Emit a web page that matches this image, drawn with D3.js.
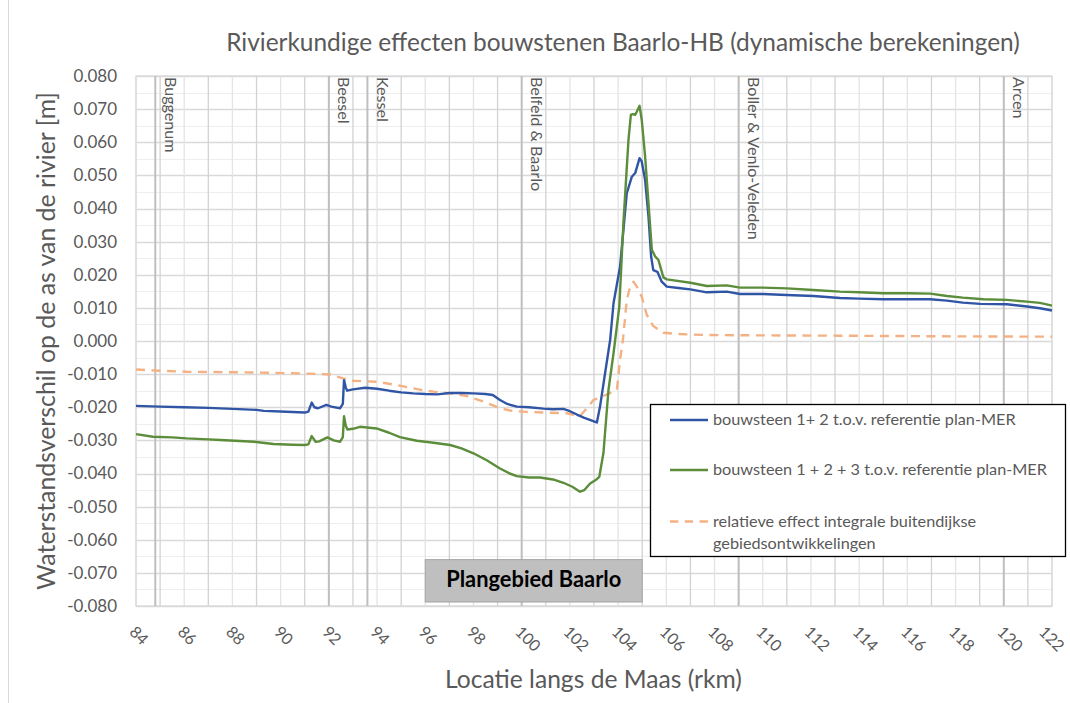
<!DOCTYPE html>
<html>
<head>
<meta charset="utf-8">
<script src="https://cdn.jsdelivr.net/npm/d3@7"></script>
<style>
  html, body { margin: 0; padding: 0; background: #fff; }
  svg { display: block; font-family: Lato, "Open Sans", sans-serif; }
</style>
</head>
<body>
<svg id="chart" width="1070" height="703"></svg>
<script>
// ---- data -------------------------------------------------------------
const xTickValues = [84, 86, 88, 90, 92, 94, 96, 98, 100, 102, 104, 106, 108, 110, 112, 114, 116, 118, 120, 122];
const yTickValues = [-0.08, -0.07, -0.06, -0.05, -0.04, -0.03, -0.02, -0.01, 0, 0.01, 0.02, 0.03, 0.04, 0.05, 0.06, 0.07, 0.08];

// river places along the Maas (rkm)
const placeNames = ["Buggenum", "Beesel", "Kessel", "Belfeld & Baarlo", "Boller & Venlo-Veleden", "Arcen"];
const placeKm = [84.8, 92.0, 93.6, 100.0, 109.0, 120.0];

// plan area (rkm range)
const planArea = { label: "Plangebied Baarlo", from: 96, to: 105 };

const seriesNames = [
  "bouwsteen 1+ 2 t.o.v. referentie plan-MER",
  "bouwsteen 1 + 2 + 3 t.o.v. referentie plan-MER",
  "relatieve effect integrale buitendijkse gebiedsontwikkelingen"
];

// [rkm, waterstandsverschil (m)]
const bouwsteen12 = [
  [84.0, -0.0196], [85.0, -0.0198], [86.0, -0.0200], [87.0, -0.0202], [88.0, -0.0205],
  [89.0, -0.0208], [89.3, -0.0211], [90.0, -0.0213], [91.0, -0.0216], [91.15, -0.0213],
  [91.29, -0.0186], [91.4, -0.0200], [91.55, -0.0203], [91.9, -0.0193], [92.1, -0.0198],
  [92.47, -0.0203], [92.58, -0.0190], [92.63, -0.0118], [92.7, -0.0140], [92.76, -0.0150],
  [93.0, -0.0146], [93.5, -0.0141], [94.0, -0.0144], [94.5, -0.0150], [95.0, -0.0155],
  [95.5, -0.0158], [96.0, -0.0160], [96.5, -0.0161], [97.0, -0.0157], [97.5, -0.0157],
  [98.0, -0.0158], [98.5, -0.0160], [98.8, -0.0163], [99.1, -0.0178], [99.4, -0.0190],
  [99.8, -0.0198], [100.3, -0.0200], [100.9, -0.0204], [101.3, -0.0206], [101.73, -0.0205],
  [102.0, -0.0212], [102.29, -0.0222], [102.6, -0.0232], [103.0, -0.0243], [103.12, -0.0246],
  [103.25, -0.0198], [103.46, -0.0097], [103.67, 0.0003], [103.81, 0.0114], [104.08, 0.0224],
  [104.36, 0.0446], [104.57, 0.0496], [104.71, 0.0507], [104.89, 0.0552], [104.98, 0.0542],
  [105.12, 0.0486], [105.26, 0.0376], [105.37, 0.0255], [105.46, 0.0214], [105.63, 0.0209],
  [105.81, 0.0179], [106.02, 0.0164], [106.5, 0.0160], [107.0, 0.0156], [107.68, 0.0147],
  [108.0, 0.0148], [108.51, 0.0149], [109.06, 0.0142], [110.0, 0.0142], [111.0, 0.0139],
  [112.1, 0.0136], [113.2, 0.0130], [114.0, 0.0128], [115.0, 0.0126], [116.0, 0.0126],
  [116.95, 0.0126], [117.64, 0.0122], [118.3, 0.0116], [119.02, 0.0112], [120.13, 0.0111],
  [120.96, 0.0104], [121.5, 0.0099], [122.0, 0.0092]
];

const bouwsteen123 = [
  [84.0, -0.0281], [84.7, -0.0289], [85.5, -0.0291], [86.1, -0.0294], [87.0, -0.0297],
  [87.5, -0.0299], [88.9, -0.0304], [89.7, -0.0311], [90.5, -0.0313], [91.0, -0.0314],
  [91.15, -0.0312], [91.29, -0.0287], [91.45, -0.0304], [91.6, -0.0303], [91.94, -0.0291],
  [92.2, -0.0300], [92.47, -0.0304], [92.58, -0.0290], [92.63, -0.0227], [92.7, -0.0255],
  [92.77, -0.0267], [93.0, -0.0265], [93.29, -0.0259], [93.98, -0.0264], [94.5, -0.0277],
  [94.95, -0.0290], [95.65, -0.0301], [96.34, -0.0307], [97.03, -0.0314], [97.5, -0.0324],
  [98.0, -0.0339], [98.55, -0.0360], [99.1, -0.0385], [99.5, -0.0400], [99.8, -0.0408],
  [100.3, -0.0412], [100.76, -0.0412], [101.3, -0.0418], [101.73, -0.0428], [102.1, -0.0440],
  [102.42, -0.0455], [102.6, -0.0450], [102.84, -0.0430], [103.1, -0.0418], [103.22, -0.0410],
  [103.39, -0.0339], [103.60, -0.0148], [103.81, -0.0037], [104.05, 0.0104], [104.22, 0.0356],
  [104.43, 0.0607], [104.53, 0.0683], [104.62, 0.0685], [104.71, 0.0683], [104.78, 0.0693],
  [104.89, 0.0710], [104.98, 0.0668], [105.12, 0.0557], [105.26, 0.0416], [105.4, 0.0275],
  [105.54, 0.0255], [105.67, 0.0245], [105.88, 0.0192], [106.02, 0.0186], [107.0, 0.0176],
  [107.68, 0.0166], [108.51, 0.0168], [109.06, 0.0161], [110.0, 0.0161], [111.0, 0.0159],
  [112.1, 0.0154], [113.2, 0.0149], [114.0, 0.0147], [115.0, 0.0144], [116.0, 0.0144],
  [116.95, 0.0143], [117.64, 0.0136], [118.3, 0.0131], [119.16, 0.0126], [120.13, 0.0124],
  [120.96, 0.0119], [121.5, 0.0115], [122.0, 0.0107]
];

const relatiefEffect = [
  [84.0, -0.0086], [85.0, -0.0090], [86.1, -0.0093], [88.9, -0.0095], [90.94, -0.0098],
  [92.05, -0.0101], [92.6, -0.0113], [93.0, -0.0120], [93.98, -0.0123], [94.82, -0.0133],
  [95.78, -0.0147], [96.34, -0.0153], [97.0, -0.0158], [97.72, -0.0166], [98.41, -0.0183],
  [99.1, -0.0203], [99.6, -0.0211], [100.2, -0.0214], [101.0, -0.0216], [101.87, -0.0218],
  [102.42, -0.0227], [102.7, -0.0203], [102.98, -0.0178], [103.39, -0.0166], [103.95, -0.0148],
  [104.08, -0.0057], [104.2, 0.0003], [104.36, 0.0124], [104.5, 0.0164], [104.64, 0.0179],
  [104.78, 0.0164], [104.98, 0.0134], [105.19, 0.0079], [105.46, 0.0045], [105.88, 0.0025],
  [106.5, 0.0021], [107.68, 0.0018], [110.0, 0.0017], [113.2, 0.0016], [118.0, 0.0014],
  [122.0, 0.0013]
];

// ---- layout -----------------------------------------------------------
const W = 1070, H = 703;
const plot = { left: 136, right: 1052, top: 76, bottom: 606 };
const textGrey = "#595959";
const colors = ["#3055a5", "#5b8d3b", "#f4b183"];

const svg = d3.select("#chart");

const x = d3.scaleLinear().domain([84, 122]).range([plot.left, plot.right]);
const y = d3.scaleLinear().domain([-0.08, 0.08]).range([plot.bottom, plot.top]);

// scale a text's font size so it spans a given width
function fitWidth(sel, width) {
  const node = sel.node();
  const base = parseFloat(sel.attr("font-size"));
  const w = node.getComputedTextLength();
  sel.attr("font-size", (base * width / w).toFixed(2));
  return sel;
}

// chart area edge
svg.append("line").attr("x1", 8.5).attr("x2", 8.5).attr("y1", 0).attr("y2", H)
  .attr("stroke", "#d9d9d9").attr("stroke-width", 1);

// ---- gridlines --------------------------------------------------------
const grid = svg.append("g");
grid.selectAll("line.hminor").data(y.ticks(32)).join("line")
  .attr("x1", plot.left).attr("x2", plot.right)
  .attr("y1", d => Math.round(y(d)) + 0.5).attr("y2", d => Math.round(y(d)) + 0.5)
  .attr("stroke", "#eeeeee").attr("stroke-width", 1);
grid.selectAll("line.hmajor").data(yTickValues).join("line")
  .attr("x1", plot.left).attr("x2", plot.right)
  .attr("y1", d => Math.round(y(d)) + 0.5).attr("y2", d => Math.round(y(d)) + 0.5)
  .attr("stroke", "#d9d9d9").attr("stroke-width", 1.3);
grid.selectAll("line.v").data(x.ticks(38)).join("line")
  .attr("x1", d => x(d)).attr("x2", d => x(d))
  .attr("y1", plot.top).attr("y2", plot.bottom)
  .attr("stroke", d => (d % 2 === 1 ? "#d2d2d2" : "#e4e4e4"))
  .attr("stroke-width", 1.3);

svg.append("rect")
  .attr("x", plot.left).attr("y", plot.top)
  .attr("width", plot.right - plot.left).attr("height", plot.bottom - plot.top)
  .attr("fill", "none").attr("stroke", "#d9d9d9").attr("stroke-width", 1.3);

// place markers
const places = svg.append("g");
placeKm.forEach((km, i) => {
  places.append("line")
    .attr("x1", x(km)).attr("x2", x(km)).attr("y1", plot.top).attr("y2", plot.bottom)
    .attr("stroke", "#bfbfbf").attr("stroke-width", 2);
});

// ---- plan area box ----------------------------------------------------
const planTop = y(-0.066), planBottom = y(-0.0788);
svg.append("rect")
  .attr("x", x(planArea.from)).attr("y", planTop)
  .attr("width", x(planArea.to) - x(planArea.from)).attr("height", planBottom - planTop)
  .attr("fill", "#bfbfbf").attr("stroke", "#a5a5a5").attr("stroke-width", 1);
const planText = svg.append("text")
  .attr("x", (x(planArea.from) + x(planArea.to)) / 2).attr("y", 587)
  .attr("text-anchor", "middle").attr("font-weight", "bold")
  .attr("font-size", 18).attr("fill", "#000").text(planArea.label);
fitWidth(planText, 175);

// ---- axes -------------------------------------------------------------
const enLocale = d3.formatLocale({ decimal: ".", thousands: ",", grouping: [3], currency: ["", ""], minus: "-" });
const yAxis = svg.append("g").attr("transform", `translate(${plot.left},0)`)
  .call(d3.axisLeft(y).tickValues(yTickValues).tickSize(0).tickPadding(19).tickFormat(enLocale.format(".3f")));
yAxis.select(".domain").remove();
yAxis.selectAll("text").attr("font-size", 17).attr("fill", textGrey)
  .attr("font-family", "Lato, 'Open Sans', sans-serif");

const xAxis = svg.append("g").attr("transform", `translate(0,${plot.bottom})`)
  .call(d3.axisBottom(x).tickValues(xTickValues).tickSize(0).tickFormat(d3.format("d")));
xAxis.select(".domain").remove();
xAxis.selectAll("text")
  .attr("x", null).attr("y", null).attr("dy", "0.35em")
  .attr("transform", "translate(-4,23) rotate(45)")
  .style("text-anchor", "start")
  .attr("font-size", 16).attr("fill", textGrey)
  .attr("font-family", "Lato, 'Open Sans', sans-serif");
// keep slanted labels inside the canvas
xAxis.selectAll("text").each(function () {
  const overflow = this.getBoundingClientRect().right - (W - 1);
  if (overflow > 0) {
    d3.select(this).attr("transform", `translate(${-4 - overflow},23) rotate(45)`);
  }
});

// ---- series -----------------------------------------------------------
const line = d3.line().x(d => x(d[0])).y(d => y(d[1]));
const seriesData = [bouwsteen12, bouwsteen123, relatiefEffect];
const lines = svg.append("g").attr("fill", "none").attr("stroke-linejoin", "round");
[2, 0, 1].forEach(i => {
  lines.append("path").datum(seriesData[i]).attr("d", line)
    .attr("stroke", colors[i]).attr("stroke-width", 2.4)
    .attr("stroke-dasharray", i === 2 ? "9,6.5" : null);
});

// place labels, drawn vertically next to their marker
placeKm.forEach((km, i) => {
  const px = x(km) + 15, py = 77;
  places.append("text")
    .attr("transform", `translate(${px},${py}) rotate(90)`)
    .attr("dy", "0.35em").attr("font-size", 14).attr("fill", textGrey)
    .text(placeNames[i]);
});
const sizer = places.selectAll("text").filter((d, i, n) => n[i].textContent === "Boller & Venlo-Veleden");
const placeFont = parseFloat(fitWidth(sizer, 163).attr("font-size"));
places.selectAll("text").attr("font-size", placeFont);

// ---- titles -----------------------------------------------------------
const title = svg.append("text").attr("x", 623).attr("y", 51).attr("text-anchor", "middle")
  .attr("font-size", 20).attr("fill", textGrey)
  .text("Rivierkundige effecten bouwstenen Baarlo-HB (dynamische berekeningen)");
fitWidth(title, 794);

const yTitle = svg.append("text")
  .attr("transform", `translate(55,341) rotate(-90)`).attr("text-anchor", "middle")
  .attr("font-size", 20).attr("fill", textGrey)
  .text("Waterstandsverschil op de as van de rivier [m]");
fitWidth(yTitle, 498);

const xTitle = svg.append("text").attr("x", 593.5).attr("y", 688).attr("text-anchor", "middle")
  .attr("font-size", 20).attr("fill", textGrey)
  .text("Locatie langs de Maas (rkm)");
fitWidth(xTitle, 297);

// ---- legend -----------------------------------------------------------
const legend = svg.append("g");
legend.append("rect").attr("x", 650.5).attr("y", 404.5).attr("width", 415).attr("height", 152)
  .attr("fill", "#fff").attr("stroke", "#000").attr("stroke-width", 1.3);
const rows = [
  { lineY: 420, lines: [seriesNames[0]] },
  { lineY: 470, lines: [seriesNames[1]] },
  { lineY: 521.5, lines: ["relatieve effect integrale buitendijkse", "gebiedsontwikkelingen"] }
];
const legendTexts = [];
rows.forEach((r, i) => {
  legend.append("line").attr("x1", 670).attr("x2", 708).attr("y1", r.lineY).attr("y2", r.lineY)
    .attr("stroke", colors[i]).attr("stroke-width", 2.4)
    .attr("stroke-dasharray", i === 2 ? "8.3,6.5" : null);
  r.lines.forEach((t, j) => {
    legendTexts.push(legend.append("text").attr("x", 713).attr("y", r.lineY + 5 + j * 22)
      .attr("font-size", 15).attr("fill", textGrey).text(t));
  });
});
const legendFont = parseFloat(fitWidth(legendTexts[1], 334).attr("font-size"));
legendTexts.forEach(t => t.attr("font-size", legendFont));
</script>
</body>
</html>
